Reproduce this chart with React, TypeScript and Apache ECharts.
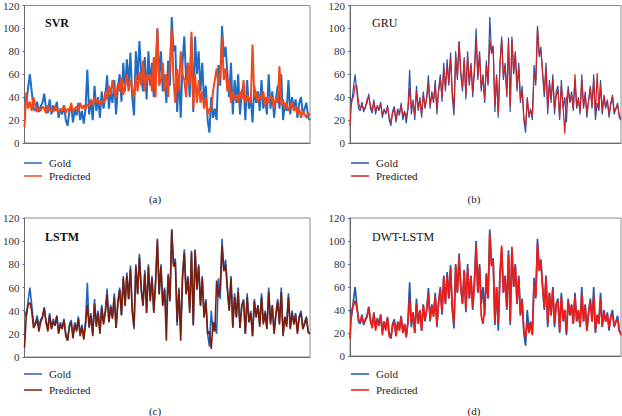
import React, { useEffect, useRef } from "react";
import * as echarts from "echarts";

const gold = [
  40, 35, 48, 60, 45, 30, 28, 36, 27, 32,
  35, 43, 30, 26, 38, 25, 33, 28, 36, 22,
  30, 25, 33, 20, 15, 28, 32, 18, 30, 24,
  35, 20, 28, 17, 30, 64, 25, 38, 20, 50,
  28, 40, 22, 45, 30, 40, 59, 30, 45, 35,
  55, 25, 48, 60, 36, 70, 45, 73, 50, 79,
  40, 24, 80, 55, 89, 60, 45, 75, 38, 80,
  50, 70, 40, 65, 100, 55, 80, 45, 60, 35,
  72, 50, 110, 80, 85, 27, 60, 22, 70, 93,
  55, 70, 40, 92, 27, 93, 60, 80, 45, 70,
  35, 50, 20, 9, 40, 22, 30, 20, 68, 50,
  102, 75, 84, 60, 40, 70, 25, 55, 35, 60,
  25, 45, 50, 20, 55, 30, 40, 18, 50, 35,
  45, 28, 55, 30, 40, 25, 60, 30, 45, 22,
  38, 50, 30, 60, 20, 35, 28, 55, 25, 40,
  30, 38, 22, 35, 40, 25, 30, 35, 22, 20,
];

const svrPredicted = [
  14, 44, 30, 36, 28, 40, 33, 27, 30, 28,
  32, 30, 26, 33, 28, 30, 27, 32, 29, 26,
  30, 28, 33, 26, 30, 28, 35, 27, 30, 32,
  28, 35, 30, 33, 29, 34, 32, 38, 33, 40,
  35, 38, 33, 37, 35, 45, 38, 50, 42, 55,
  45, 40, 52, 45, 57, 42, 50, 60, 45, 55,
  48, 40, 58, 45, 62, 50, 72, 45, 60, 55,
  60, 45, 75, 40, 100, 50, 55, 70, 45, 60,
  40, 70, 100, 55, 35, 65, 45, 80, 60, 55,
  40, 70, 50, 97, 30, 60, 35, 55, 35, 45,
  30, 40, 25, 30, 28, 45, 55, 65, 50, 60,
  92, 55, 65, 45, 55, 35, 45, 38, 42, 35,
  45, 38, 55, 35, 42, 38, 35, 86, 40, 45,
  35, 42, 38, 45, 32, 40, 35, 42, 38, 30,
  40, 35, 67, 33, 38, 30, 35, 28, 32, 36,
  28, 32, 25, 30, 22, 28, 25, 22, 26, 24,
];

const gruPredicted = [
  15, 38, 40, 50, 50, 35, 30, 33, 30, 30,
  38, 40, 33, 28, 36, 28, 31, 30, 34, 25,
  28, 27, 31, 23, 18, 26, 30, 20, 28, 26,
  33, 24, 27, 22, 30, 48, 30, 36, 24, 45,
  30, 38, 25, 42, 32, 38, 52, 33, 43, 37,
  50, 30, 45, 56, 40, 65, 48, 68, 52, 75,
  45, 30, 75, 58, 88, 62, 48, 72, 42, 76,
  52, 68, 44, 62, 90, 58, 78, 48, 58, 38,
  68, 52, 90, 78, 82, 32, 58, 26, 68, 90,
  58, 68, 42, 88, 32, 90, 62, 78, 48, 66,
  38, 45, 22, 14, 38, 25, 28, 24, 60, 55,
  100, 78, 80, 62, 44, 66, 30, 52, 38, 56,
  30, 42, 46, 22, 50, 33, 8, 38, 46, 36,
  42, 30, 60, 32, 38, 28, 55, 32, 42, 26,
  36, 48, 32, 55, 24, 61, 30, 50, 28, 42,
  32, 36, 25, 34, 42, 28, 30, 33, 24, 22,
];

const lstmPredicted = [
  8, 36, 45, 47, 40, 25, 28, 33, 22, 30,
  34, 42, 30, 22, 36, 24, 30, 27, 35, 20,
  28, 24, 32, 18, 14, 26, 30, 16, 28, 22,
  33, 18, 26, 15, 28, 45, 26, 36, 18, 46,
  26, 38, 20, 43, 28, 38, 54, 30, 43, 33,
  52, 25, 46, 58, 36, 68, 44, 70, 50, 76,
  40, 26, 78, 54, 86, 58, 44, 72, 38, 78,
  48, 68, 38, 64, 102, 54, 78, 44, 58, 14,
  70, 48, 110, 78, 82, 30, 58, 14, 68, 90,
  54, 68, 38, 90, 28, 92, 58, 78, 44, 68,
  34, 48, 20, 22, 7, 30, 22, 66, 52, 60,
  96, 74, 80, 58, 40, 68, 26, 52, 34, 56,
  25, 44, 48, 20, 52, 30, 38, 18, 48, 34,
  44, 26, 52, 28, 38, 24, 56, 28, 44, 20,
  36, 48, 28, 56, 18, 34, 26, 52, 24, 38,
  28, 36, 20, 34, 38, 24, 28, 34, 21, 20,
];

const dwtLstmPredicted = [
  15, 40, 44, 48, 42, 32, 30, 34, 28, 31,
  34, 42, 32, 24, 37, 22, 31, 26, 36, 18,
  30, 22, 34, 17, 16, 26, 30, 17, 29, 22,
  34, 20, 27, 16, 30, 50, 28, 38, 20, 45,
  28, 40, 22, 44, 32, 40, 55, 32, 44, 34,
  52, 27, 47, 58, 38, 68, 46, 70, 50, 76,
  42, 28, 78, 55, 86, 60, 46, 74, 40, 76,
  50, 68, 42, 62, 96, 55, 78, 35, 28, 40,
  70, 50, 107, 78, 84, 30, 60, 28, 72, 96,
  55, 68, 42, 88, 30, 95, 60, 78, 46, 68,
  36, 48, 22, 16, 30, 20, 28, 18, 62, 52,
  98, 74, 82, 60, 42, 68, 28, 55, 36, 58,
  28, 45, 48, 22, 52, 32, 40, 20, 48, 36,
  44, 28, 52, 30, 40, 26, 54, 30, 44, 22,
  38, 48, 30, 52, 22, 36, 28, 50, 26, 38,
  30, 36, 24, 34, 36, 26, 30, 32, 22, 18,
];

const steps = gold.map((_, i) => String(i + 1));
const modelNames = ["SVR", "GRU", "LSTM", "DWT-LSTM"];
const captions = ["(a)", "(b)", "(c)", "(d)"];
const legendNames = ["Gold", "Predicted"];
const predictedSets = [svrPredicted, gruPredicted, lstmPredicted, dwtLstmPredicted];

const FONT = "Liberation Serif";

const panels = [
  { left: 23, width: 287, top: 4, height: 139, gold: "#1f6cc4", pred: "#f0481c", gw: 2, pw: 2, titleWeight: "bold", legY: [163, 176], capX: 155, capY: 199 },
  { left: 350, width: 271, top: 4, height: 139, gold: "#2c52a6", pred: "#cc2229", gw: 1.2, pw: 1.2, titleWeight: "normal", legY: [163, 176], capX: 474, capY: 199 },
  { left: 23, width: 287, top: 218, height: 139, gold: "#2264bb", pred: "#7c1d0c", gw: 1.6, pw: 1.6, titleWeight: "bold", legY: [374, 390], capX: 155, capY: 411 },
  { left: 350, width: 271, top: 218, height: 138, gold: "#1f58ae", pred: "#ec1c17", gw: 1.7, pw: 1.7, titleWeight: "normal", legY: [374, 390], capX: 474, capY: 411 },
];

export default function App() {
  const ref = useRef<HTMLDivElement>(null);
  useEffect(() => {
    if (!ref.current) return;
    const chart = echarts.init(ref.current, null, { renderer: "svg" });
    const grid = panels.map((p) => ({
      left: p.left, top: p.top, width: p.width, height: p.height,
      show: true, borderColor: "#8c8c8c", borderWidth: 1, containLabel: false,
    }));
    const xAxis = panels.map((_, k) => ({
      type: "category", gridIndex: k, data: steps, boundaryGap: false,
      axisLine: { show: true, lineStyle: { color: "#6a6a6a", width: 1 } },
      axisTick: { show: false }, axisLabel: { show: false }, splitLine: { show: false },
    }));
    const yAxis = panels.map((_, k) => ({
      type: "value", gridIndex: k, min: 0, max: 120, interval: 20,
      axisLine: { show: true, lineStyle: { color: "#6a6a6a", width: 1 } },
      axisTick: { show: true, length: 2, lineStyle: { color: "#6a6a6a" } },
      axisLabel: { show: true, fontFamily: FONT, fontSize: 11, color: "#333", margin: 5 },
      splitLine: { show: false },
    }));
    const series: any[] = [];
    panels.forEach((p, k) => {
      series.push({
        name: legendNames[0], type: "line", xAxisIndex: k, yAxisIndex: k, data: gold,
        showSymbol: false, symbol: "none", lineStyle: { color: p.gold, width: p.gw }, itemStyle: { color: p.gold },
      });
      series.push({
        name: legendNames[1], type: "line", xAxisIndex: k, yAxisIndex: k, data: predictedSets[k],
        showSymbol: false, symbol: "none", lineStyle: { color: p.pred, width: p.pw }, itemStyle: { color: p.pred },
      });
    });
    const graphic: any[] = [];
    panels.forEach((p, k) => {
      graphic.push({
        type: "text", x: p.left + 22, y: p.top + 19,
        style: { text: modelNames[k], fontFamily: FONT, fontSize: 12, fontWeight: p.titleWeight, fill: "#111", verticalAlign: "middle" },
      });
      [p.gold, p.pred].forEach((c, j) => {
        graphic.push({
          type: "line", shape: { x1: p.left + 1, y1: p.legY[j], x2: p.left + 19, y2: p.legY[j] },
          style: { stroke: c, lineWidth: 1.5 },
        });
        graphic.push({
          type: "text", x: p.left + 26, y: p.legY[j],
          style: { text: legendNames[j], fontFamily: FONT, fontSize: 11, fill: "#222", verticalAlign: "middle" },
        });
      });
      graphic.push({
        type: "text", x: p.capX, y: p.capY,
        style: { text: captions[k], fontFamily: FONT, fontSize: 11, fill: "#222", align: "center", verticalAlign: "middle" },
      });
    });
    chart.setOption({
      animation: false,
      backgroundColor: "#ffffff",
      grid, xAxis, yAxis, series, graphic,
    });
    return () => chart.dispose();
  }, []);
  return <div ref={ref} style={{ width: 622, height: 416, position: "absolute", left: 0, top: 0 }} />;
}
